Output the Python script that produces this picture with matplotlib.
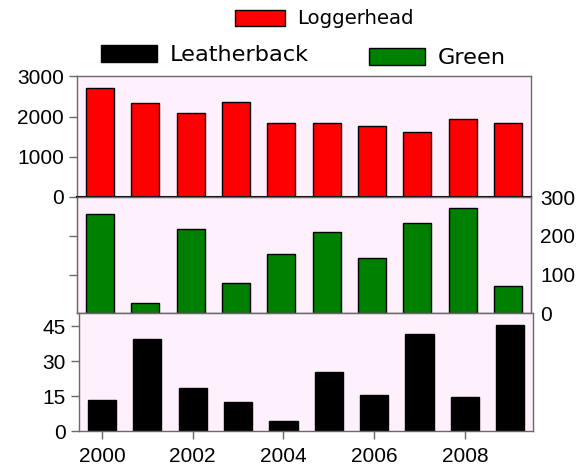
import matplotlib
matplotlib.use('Agg')
import matplotlib.pyplot as plt

# dados
anos = list(range(2000, 2010))
loggerhead = [2710, 2350, 2100, 2370, 1850, 1850, 1770, 1610, 1950, 1830]
green = [256, 26, 218, 78, 154, 211, 142, 234, 273, 70]
leatherback = [13.5, 39.6, 18.3, 12.3, 4.3, 25.4, 15.3, 41.6, 14.4, 45.6]
ticks_anos = [2000, 2002, 2004, 2006, 2008]

fundo = '#fff0fd'
cor_borda = '#6a6a6a'
fonte_eixo = {'family': 'Liberation Sans', 'size': 15}

fig = plt.figure(figsize=(5.83, 4.74), dpi=100)
ax1 = fig.add_axes([0.1326, 0.585, 0.7777, 0.2553])
ax2 = fig.add_axes([0.1326, 0.339, 0.7777, 0.246])
ax3 = fig.add_axes([0.136, 0.0907, 0.7782, 0.2483])

b1 = ax1.bar(anos, loggerhead, width=0.62, color='#ff0000', edgecolor='black', linewidth=1)
b2 = ax2.bar(anos, green, width=0.62, color='#008000', edgecolor='black', linewidth=1)
b3 = ax3.bar(anos, leatherback, width=0.62, color='black', edgecolor='black', linewidth=1)

for ax in (ax1, ax2, ax3):
    ax.set_facecolor(fundo)
    ax.set_xlim(1999.5, 2009.5)
    for s in ax.spines.values():
        s.set_color(cor_borda)
        s.set_linewidth(1)
    ax.tick_params(direction='out', length=5.5, width=1, color=cor_borda, pad=4)

# painel de cima
ax1.set_ylim(0, 3020)
ax1.set_yticks([0, 1000, 2000, 3000])
ax1.set_yticklabels(['0', '1000', '2000', '3000'], fontdict=fonte_eixo)
ax1.set_xticks(ticks_anos)
ax1.tick_params(axis='x', labelbottom=False)
ax1.spines['bottom'].set_color('black')
ax1.spines['bottom'].set_linewidth(1.5)

# painel do meio
ax2.set_ylim(0, 301)
ax2.set_yticks([100, 200])
ax2.tick_params(axis='y', labelleft=False)
ax2.set_xticks([])
ax2r = ax2.twinx()
ax2r.set_ylim(0, 301)
ax2r.set_yticks([0, 100, 200, 300])
ax2r.set_yticklabels(['0', '100', '200', '300'], fontdict=fonte_eixo)
ax2r.tick_params(axis='y', length=0, pad=7)
for s in ax2r.spines.values():
    s.set_color(cor_borda)

# painel de baixo
ax3.set_ylim(0, 50.5)
ax3.set_yticks([0, 15, 30, 45])
ax3.set_yticklabels(['0', '15', '30', '45'], fontdict=fonte_eixo)
ax3.set_xticks(ticks_anos)
ax3.set_xticklabels([str(a) for a in ticks_anos], fontdict=fonte_eixo)
ax3.tick_params(axis='x', pad=6)

# legendas
fig.legend(handles=[b1], labels=['Loggerhead'], loc='center left',
           bbox_to_anchor=(235 / 583, 1 - 19 / 474), frameon=False,
           borderpad=0, borderaxespad=0, handlelength=2.56, handleheight=0.88,
           handletextpad=0.58, prop={'family': 'DejaVu Sans', 'size': 14.2})
fig.legend(handles=[b3], labels=['Leatherback'], loc='center left',
           bbox_to_anchor=(101 / 583, 1 - 55 / 474), frameon=False,
           borderpad=0, borderaxespad=0, handlelength=2.49, handleheight=0.78,
           handletextpad=0.58, prop={'family': 'DejaVu Sans', 'size': 16.2})
fig.legend(handles=[b2], labels=['Green'], loc='center left',
           bbox_to_anchor=(369 / 583, 1 - 58 / 474), frameon=False,
           borderpad=0, borderaxespad=0, handlelength=2.47, handleheight=0.76,
           handletextpad=0.6, prop={'family': 'DejaVu Sans', 'size': 16.2})

fig.savefig('out.png', dpi=100)
